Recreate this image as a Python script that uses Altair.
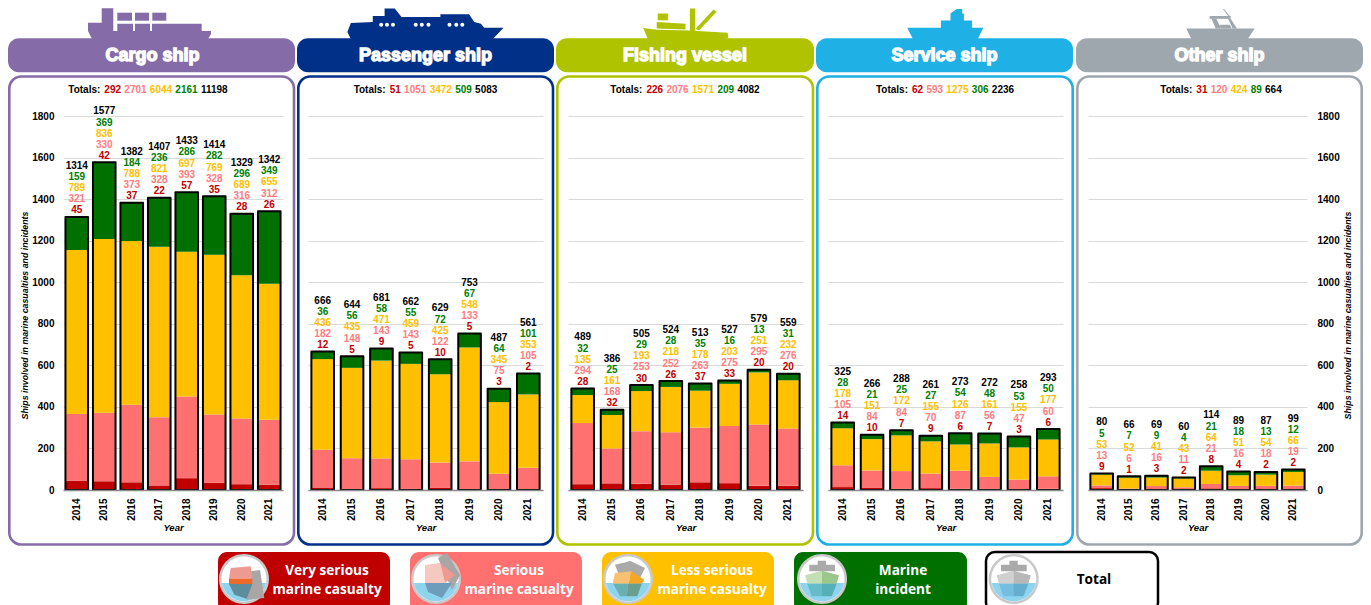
import altair as alt
import pandas as pd

years = ["2014","2015","2016","2017","2018","2019","2020","2021"]
ships = ["Cargo ship","Passenger ship","Fishing vessel","Service ship","Other ship"]
very = [[45,42,37,22,57,35,28,26],[12,5,9,5,10,5,3,2],[28,32,30,26,37,33,20,20],[14,10,7,9,6,7,3,6],[9,1,3,2,8,4,2,2]]
serious = [[321,330,373,328,393,328,316,312],[182,148,143,143,122,133,75,105],[294,168,253,252,263,275,295,276],[105,84,84,70,87,56,47,60],[13,6,16,11,21,16,18,19]]
less = [[789,836,788,821,697,769,689,655],[436,435,471,459,425,548,345,353],[135,161,193,218,178,203,251,232],[178,151,172,155,126,161,155,177],[53,52,41,43,64,51,54,66]]
incident = [[159,369,184,236,286,282,296,349],[36,56,58,55,72,67,64,101],[32,25,29,28,35,16,13,31],[28,21,25,27,54,48,53,50],[5,7,9,4,21,18,13,12]]
total = [[1314,1577,1382,1407,1433,1414,1329,1342],[666,644,681,662,629,753,487,561],[489,386,505,524,513,527,579,559],[325,266,288,261,273,272,258,293],[80,66,69,60,114,89,87,99]]
totals = [[292,2701,6044,2161,11198],[51,1051,3472,509,5083],[226,2076,1571,209,4082],[62,593,1275,306,2236],[31,120,424,89,664]]

cats = ["Very serious","Serious","Less serious","Marine incident"]
bar_cols = ["#c00000","#ff7070","#ffc000","#007000"]
lab_cols = ["#c00000","#ff7c80","#ffc000","#008000","#000000"]
ship_cols = ["#856ca8","#003087","#afc300","#1fb0e6","#9ea7ad"]
FONT = "Liberation Sans"

OX = [63,308,568,828,1088]
WID = [220,235,235,235,219]
OY = 116
H = 374
BANNER = [(8,295),(297,554),(556,814),(816,1073),(1076,1363)]
CARD = [(9.3,294),(298.3,553),(557.3,813),(817.3,1072.7),(1077.3,1361.7)]
HEADC = [148.5,425.5,685,945,1221]

one = alt.Data(values=[{"k":0}])

def rect(x0,y0,x1,y1,ox,fill="none",stroke=None,sw=0,r=0):
    kw = dict(cornerRadius=r)
    if fill == "none":
        kw["fillOpacity"] = 0
        kw["fill"] = "white"
    else:
        kw["fill"] = fill
    if stroke:
        kw["stroke"] = stroke
        kw["strokeWidth"] = sw
    return alt.Chart(one).mark_rect(**kw).encode(
        x=alt.value(x0-ox),x2=alt.value(x1-ox),y=alt.value(y0-OY),y2=alt.value(y1-OY))

def label(s,x,y,ox,color,size,font=FONT,weight="bold",**kw):
    return alt.Chart(one).mark_text(text=s,font=font,fontSize=size,fontWeight=weight,color=color,
                                    align=kw.pop("align","center"),baseline="middle",**kw).encode(
        x=alt.value(x-ox),y=alt.value(y-OY))

def poly(pts,ox):
    return "M"+" L".join(f"{x-ox:.1f},{y-OY:.1f}" for x,y in pts)+" Z"

def circ(cx,cy,r,ox):
    return f"M{cx-r-ox:.1f},{cy-OY:.1f} A{r},{r} 0 1 0 {cx+r-ox:.1f},{cy-OY:.1f} A{r},{r} 0 1 0 {cx-r-ox:.1f},{cy-OY:.1f} Z"

def icons(rows):
    return alt.Chart(alt.Data(values=rows)).mark_point(filled=True,opacity=1,strokeWidth=0,size=4).encode(
        x=alt.value(0),y=alt.value(0),
        shape=alt.Shape("p:N",scale=None,legend=None),
        fill=alt.Fill("c:N",scale=None,legend=None),
        size=alt.value(4))

def z7(pts): return [(x/2.958+295,y/2.958) for x,y in pts]
def z8(pts): return [(x/2.82+815,y/2.82) for x,y in pts]

ship_polys = [
  [[(88,22.7),(101.7,22.7),(101.7,8.3),(113.3,8.3),(113.3,31),(117.3,31),(117.3,23.7),(133,23.7),(133,31),(135,31),(135,23.7),(150,23.7),(150,31),(152,31),(152,23.7),(201.7,23.7),(201.7,31),(211,31),(211,34),(208,39),(92,39),(88,31)],
   [(117.3,12.7),(132,12.7),(132,20.7),(117.3,20.7)],[(135,12.7),(149,12.7),(149,20.7),(135,20.7)],[(152.3,12.7),(166.3,12.7),(166.3,20.7),(152.3,20.7)]],
  [z7([(155,95),(165,68),(230,65),(230,47),(265,47),(265,25),(295,25),(315,50),(430,50),(430,42),(515,42),(530,65),(550,70),(560,82),(617,82),(585,115),(165,115)])],
  [z7([(1030,83),(1070,88),(1165,90),(1280,97),(1282,112),(1250,118),(1045,118)]),
   z7([(1070,65),(1155,70),(1155,87),(1070,84)]),z7([(1073,40),(1103,40),(1103,60),(1073,60)]),
   z7([(1168,25),(1184,25),(1184,92),(1168,92)]),z7([(1238,28),(1247,35),(1195,90),(1185,85)])],
  [z8([(260,78),(355,78),(355,58),(382,58),(382,38),(400,25),(415,25),(415,38),(420,38),(420,58),(443,58),(443,78),(475,78),(455,118),(280,118)])],
  [z8([(1047,80),(1240,80),(1215,118),(1065,118)]),z8([(1113,45),(1172,45),(1172,53),(1113,53)]),
   z8([(1118,53),(1132,53),(1145,80),(1130,80)]),z8([(1165,53),(1172,53),(1190,80),(1178,80)]),
   z8([(1140,70),(1170,70),(1175,80),(1145,80)]),z8([(1150,25),(1153,25),(1172,48),(1168,48)])],
]
dots = [(x/2.958+295,73/2.958) for x in (255,272,290,357,375,395,457,477,495)]

def leg_icon(cx,ox,parts):
    rows = [{"p":circ(cx,579,25,ox),"c":"#c9c9c9"},{"p":circ(cx,579,22.5,ox),"c":"#ffffff"}]
    dx = (22.5**2-16)**0.5
    rows.append({"p":f"M{cx-dx-ox:.1f},{583-OY} A22.5,22.5 0 0 0 {cx+dx-ox:.1f},{583-OY} Z","c":"#8ed4ef"})
    for pts,c in parts:
        rows.append({"p":poly(pts,ox),"c":c})
    return rows

def zm(pts,x0): return [(x/3+x0,y/3+548) for x,y in pts]

def legend_layers(ox):
    L = []
    boxes = [(218,390,"#c00000",None),(410,582,"#ff7070",None),(602,774,"#ffc000",None),(794,967,"#007000",None),(986,1158,"#ffffff","#000000")]
    for x0,x1,f,s in boxes:
        L.append(rect(x0,552,x1,612,ox,fill=f,stroke=s,sw=2.5 if s else 0,r=9))
    Z9,Z10,Z11 = 215,600,790
    rows = []
    rows += leg_icon(244,ox,[
        (zm([(108,70),(135,66),(148,150),(95,155)],Z9),"#aaa6a6"),
        (zm([(47,60),(107,55),(112,92),(42,92)],Z9),"#ee9a90"),
        (zm([(42,92),(112,92),(112,108),(42,108)],Z9),"#ee6a2a"),
        (zm([(42,108),(112,108),(95,152),(58,140)],Z9),"#5e8c9c")])
    rows += leg_icon(436,ox,[
        ([(438,558),(447,553),(460,575),(452,590)],"#aaa6a6"),
        ([(425,565),(440,563),(445,583),(425,583)],"#f5c8c0"),
        ([(440,563),(455,575),(445,583)],"#ee9a90"),
        ([(425,583),(452,583),(442,598),(428,592)],"#6e9dbb")])
    rows += leg_icon(628,ox,[
        (zm([(45,50),(80,42),(90,38),(135,60),(120,90),(60,90)],Z10),"#aaaaaa"),
        (zm([(45,75),(95,70),(85,107),(38,107)],Z10),"#f8c070"),
        (zm([(95,70),(133,95),(125,107),(85,107)],Z10),"#f5a623"),
        (zm([(40,107),(85,107),(80,145),(60,145)],Z10),"#6ab0b0"),
        (zm([(85,107),(125,107),(112,145),(80,145)],Z10),"#6a9f8f")])
    for x0,cs in ((Z11,("#aaaaaa","#c5dfb5","#9cc78a","#66bcc9","#55b0b8")),(Z11+191.7,("#aaaaaa","#d0d0d0","#b8b8b8","#74bfdf","#65aed0"))):
        rows += leg_icon(x0+32,ox,[
            (zm([(83,38),(108,38),(108,50),(135,50),(135,70),(58,70),(58,50),(83,50)],x0),cs[0]),
            (zm([(45,82),(95,68),(95,107),(52,107)],x0),cs[1]),
            (zm([(95,68),(147,82),(140,107),(95,107)],x0),cs[2]),
            (zm([(52,107),(95,107),(95,145),(65,145)],x0),cs[3]),
            (zm([(95,107),(140,107),(125,145),(95,145)],x0),cs[4])])
    L.append(icons(rows))
    F = "Open Sans"
    for s,x,y,c in [("Very serious",327,571,"white"),("marine casualty",327,589.5,"white"),
                    ("Serious",519,571,"white"),("marine casualty",519,589.5,"white"),
                    ("Less serious",712,571,"white"),("marine casualty",712,589.5,"white"),
                    ("Marine",903,571,"white"),("incident",903,589.5,"white"),
                    ("Total",1094,580,"black")]:
        L.append(label(s,x,y,ox,c,13.6,font=F))
    return L

def text_width(s,size):
    w = {"T":.611,"o":.611,"t":.333,"a":.556,"l":.278,"s":.556,":":.333," ":.278}
    return sum(w.get(ch,.556) for ch in s)*size

def panel(i):
    ox = OX[i]
    rows = []
    for j,y in enumerate(years):
        for k,(c,arr) in enumerate(zip(cats,[very,serious,less,incident])):
            rows.append({"year":y,"cat":c,"k":k,"value":arr[i][j],"total":total[i][j]})
    df = pd.DataFrame(rows)
    xs = alt.Scale(type="band",paddingInner=0,paddingOuter=0,domain=years)
    ys = alt.Scale(domain=[0,1800])
    X0 = alt.X("year:N",scale=xs)

    L = [rect(BANNER[i][0],38.3,BANNER[i][1],72.3,ox,fill=ship_cols[i],r=11),
         rect(CARD[i][0],76.5,CARD[i][1],544.5,ox,stroke=ship_cols[i],sw=2.6,r=12)]
    paths = [{"p":poly(p,ox),"c":ship_cols[i]} for p in ship_polys[i]]
    if i == 1:
        paths += [{"p":circ(x,y,2,ox),"c":"#ffffff"} for x,y in dots]
    L.append(icons(paths))
    L.append(label(ships[i],(BANNER[i][0]+BANNER[i][1])/2+(1 if i==0 else 0),56,ox,"white",18,stroke="white",strokeWidth=1.3))

    yaxis = dict(values=list(range(0,1801,200)),grid=True,gridColor="#d9d9d9",gridWidth=1,domain=False,ticks=False,format="d")
    if i == 0:
        ax = alt.Axis(orient="left",labelFontSize=10,labelFont=FONT,labelFontWeight="bold",labelColor="black",labelPadding=9,
                      title="Ships involved in marine casualties and incidents",titleFont=FONT,titleFontSize=8.8,titleFontWeight="bold",
                      titleFontStyle="italic",titleColor="black",titleX=-34,titleY=199,titleAngle=270,**yaxis)
    elif i == 4:
        ax = alt.Axis(orient="right",labelFontSize=10,labelFont=FONT,labelFontWeight="bold",labelColor="black",labelPadding=10,
                      title="Ships involved in marine casualties and incidents",titleFont=FONT,titleFontSize=8.8,titleFontWeight="bold",
                      titleFontStyle="italic",titleColor="black",titleX=45,titleY=199,titleAngle=270,**yaxis)
    else:
        ax = alt.Axis(labels=False,title=None,**yaxis)
    xaxis = alt.Axis(title="Year",titleFont=FONT,titleFontSize=9.5,titleFontWeight="bold",titleFontStyle="italic",titleColor="black",
                     titleY=32,labelAngle=270,labelFont=FONT,labelFontSize=10,labelFontWeight="bold",labelColor="black",labelPadding=8,
                     labelBaseline="middle",labelAlign="right",ticks=False,domainColor="#8a8a8a",domainWidth=1.5,zindex=1)
    bars = alt.Chart(df).mark_bar(width=22).encode(
        x=alt.X("year:N",scale=xs,axis=xaxis),
        y=alt.Y("value:Q",stack="zero",scale=ys,axis=ax),
        color=alt.Color("cat:N",scale=alt.Scale(domain=cats,range=bar_cols),legend=None),
        order=alt.Order("k:Q"))
    L.append(bars)
    dft = df[df.k==0]
    L.append(alt.Chart(dft).mark_bar(width=22.6,fillOpacity=0,fill="white",stroke="black",strokeWidth=2,strokeJoin="round").encode(
        x=X0,y=alt.Y("total:Q",scale=ys),y2=alt.datum(0)))
    for k,c in enumerate(cats+["Total"]):
        if k < 4:
            d = df[df.k==k]
            t = "value:Q"
        else:
            d = dft
            t = "total:Q"
        L.append(alt.Chart(d).mark_text(font=FONT,fontSize=10,fontWeight="bold",color=lab_cols[k],dy=-6.5-11.1*k,baseline="middle").encode(
            x=X0,y=alt.Y("total:Q",scale=ys),text=alt.Text(t)))
    parts = [("Totals:","#000000")]+[(str(v),col) for v,col in zip(totals[i],lab_cols)]
    S = 10
    sep = text_width(" ",S)+0.5
    full = sum(text_width(s,S) for s,_ in parts)+sep*5
    cur = HEADC[i]-full/2
    for s,col in parts:
        L.append(label(s,cur,89.5,ox,col,S,align="left"))
        cur += text_width(s,S)+sep
    if i == 0:
        L += legend_layers(ox)
    return alt.layer(*L).properties(width=WID[i],height=H)

chart = alt.hconcat(
    *[panel(i) for i in range(5)],spacing=25,bounds="flush"
).resolve_scale(x="independent",y="independent").configure_view(stroke=None).properties(padding=0,background="white")

chart.save("out.html", embed_options={"renderer": "svg", "actions": False})
